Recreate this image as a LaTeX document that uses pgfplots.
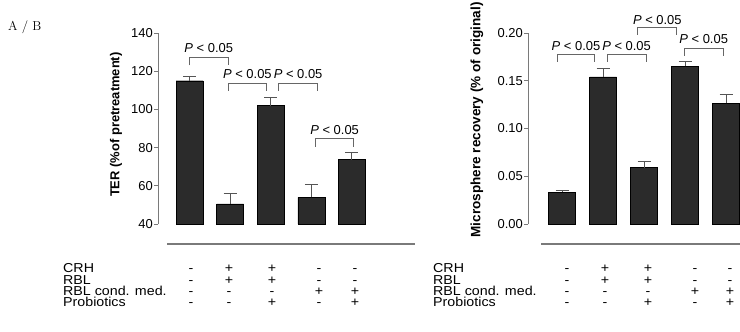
\documentclass[border=0pt]{standalone}
\usepackage{fontspec}
\newfontfamily\arial{Liberation Sans}
\newfontfamily\arialw{Liberation Sans}[FakeStretch=1.1]
\usepackage{pgfplots}
\pgfplotsset{compat=1.18}
\definecolor{barc}{HTML}{2B2B2B}
\definecolor{axc}{HTML}{7A7A7A}
\definecolor{errc}{HTML}{555555}
\definecolor{brkc}{HTML}{666666}
\pgfplotsset{
  mypanel/.style={
    scale only axis, height=191bp, clip=false,
    axis y line*=left, axis x line=none,
    axis line style={axc, line width=0.9pt},
    every tick/.style={axc, line width=0.9pt},
    tick align=outside, major tick length=4bp,
    tick label style={font=\arial\fontsize{13}{15}\selectfont},
    /pgf/number format/assume math mode=true,
    yticklabel style={inner sep=1bp},
  },
  mybars/.style={ybar, bar width=27bp, fill=barc, draw=black, line width=0.4pt,
    error bars/.cd, y dir=plus, y explicit,
    error bar style={errc, line width=0.9pt},
    error mark options={errc, rotate=90, mark size=6.5bp, line width=0.9pt}},
}
\tikzset{
  brk/.style={brkc, line width=0.9pt},
  plab/.style={font=\arial\fontsize{13}{15}\selectfont, anchor=center, inner sep=0pt},
  tab/.style={font=\arialw\fontsize{13}{15}\selectfont, inner sep=0pt, anchor=base,
    text height=9bp, text depth=1.5bp},
}
\newcommand{\Plab}{{\itshape P} < 0.05}
\begin{document}
\begin{tikzpicture}[x=1bp,y=1bp]
\useasboundingbox (0,0) rectangle (740,331);
\node[anchor=west, font=\fontsize{13}{15}\selectfont, inner sep=0pt] at (8,304) {A / B};

% Left panel
\begin{axis}[mypanel, at={(158bp,107bp)}, anchor=south west, width=214.2bp,
  xmin=0.224, xmax=5.5, ymin=40, ymax=140, ytick={40,60,80,100,120,140},
  ylabel={TER (\%of pretreatment)},
  ylabel style={at={(axis description cs:-0.196,0.52)}, anchor=center,
    font=\arial\bfseries\fontsize{13}{15}\selectfont}]
\addplot[mybars] table[x=x, y=y, y error=e] {
x y e
1 115 2.5
2 50.5 5.5
3 102 4.3
4 54 6.8
5 73.7 3.8
};
\draw[brk] (axis cs:1.0,123.1) -- (axis cs:1.0,127) -- (axis cs:1.95,127) -- (axis cs:1.95,123.1);
\node[plab] at (axis cs:1.475,132.1) {\Plab};
\draw[brk] (axis cs:1.95,109.8) -- (axis cs:1.95,113.8) -- (axis cs:2.9,113.8) -- (axis cs:2.9,109.8);
\node[plab] at (axis cs:2.425,118.5) {\Plab};
\draw[brk] (axis cs:3.2,109.8) -- (axis cs:3.2,113.8) -- (axis cs:4.15,113.8) -- (axis cs:4.15,109.8);
\node[plab] at (axis cs:3.675,118.5) {\Plab};
\draw[brk] (axis cs:4.1,80.5) -- (axis cs:4.1,84.9) -- (axis cs:5.05,84.9) -- (axis cs:5.05,80.5);
\node[plab] at (axis cs:4.575,89.2) {\Plab};
\end{axis}

% Right panel
\begin{axis}[mypanel, at={(528bp,107bp)}, anchor=south west, width=210.3bp,
  xmin=0.17, xmax=5.3, ymin=0, ymax=0.2, ytick={0,0.05,0.1,0.15,0.2},
  yticklabel style={/pgf/number format/.cd, fixed, fixed zerofill, precision=2},
  ylabel={Microsphere recovery (\% of original)},
  ylabel style={at={(axis description cs:-0.2425,0.545)}, anchor=center,
    font=\arial\bfseries\fontsize{13.6}{15}\selectfont}]
\addplot[mybars] table[x=x, y=y, y error=e] {
x y e
1 0.0335 0.0021
2 0.154 0.0086
3 0.059 0.0062
4 0.165 0.005
5 0.1264 0.009
};
\draw[brk] (axis cs:0.88,0.170) -- (axis cs:0.88,0.1777) -- (axis cs:1.8,0.1777) -- (axis cs:1.8,0.170);
\node[plab] at (axis cs:1.34,0.1864) {\Plab};
\draw[brk] (axis cs:2.1,0.170) -- (axis cs:2.1,0.1777) -- (axis cs:3.05,0.1777) -- (axis cs:3.05,0.170);
\node[plab] at (axis cs:2.575,0.1864) {\Plab};
\draw[brk] (axis cs:2.85,0.198) -- (axis cs:2.85,0.206) -- (axis cs:3.8,0.206) -- (axis cs:3.8,0.198);
\node[plab] at (axis cs:3.325,0.2136) {\Plab};
\draw[brk] (axis cs:3.98,0.176) -- (axis cs:3.98,0.184) -- (axis cs:4.93,0.184) -- (axis cs:4.93,0.176);
\node[plab] at (axis cs:4.455,0.1934) {\Plab};
\end{axis}

% separator lines
\draw[axc, line width=1.2pt] (167,87) -- (415,87);
\draw[axc, line width=1.2pt] (541,87) -- (740,87);

% treatment table
\foreach \lx/\ca/\cb/\cc/\cd/\ce in {63/191/229/272/319/355, 433/567/605/648/695/730} {
  \node[tab, anchor=base west] at (\lx,58.3) {CRH};
  \node[tab, anchor=base west] at (\lx,47) {RBL};
  \node[tab, anchor=base west] at (\lx,35.7) {RBL cond. med.};
  \node[tab, anchor=base west] at (\lx,24.4) {Probiotics};
  \node[tab] at (\ca,58.3) {-}; \node[tab] at (\ca,47) {-}; \node[tab] at (\ca,35.7) {-}; \node[tab] at (\ca,24.4) {-};
  \node[tab] at (\cb,58.3) {+}; \node[tab] at (\cb,47) {+}; \node[tab] at (\cb,35.7) {-}; \node[tab] at (\cb,24.4) {-};
  \node[tab] at (\cc,58.3) {+}; \node[tab] at (\cc,47) {+}; \node[tab] at (\cc,35.7) {-}; \node[tab] at (\cc,24.4) {+};
  \node[tab] at (\cd,58.3) {-}; \node[tab] at (\cd,47) {-}; \node[tab] at (\cd,35.7) {+}; \node[tab] at (\cd,24.4) {-};
  \node[tab] at (\ce,58.3) {-}; \node[tab] at (\ce,47) {-}; \node[tab] at (\ce,35.7) {+}; \node[tab] at (\ce,24.4) {+};
}
\end{tikzpicture}
\end{document}
